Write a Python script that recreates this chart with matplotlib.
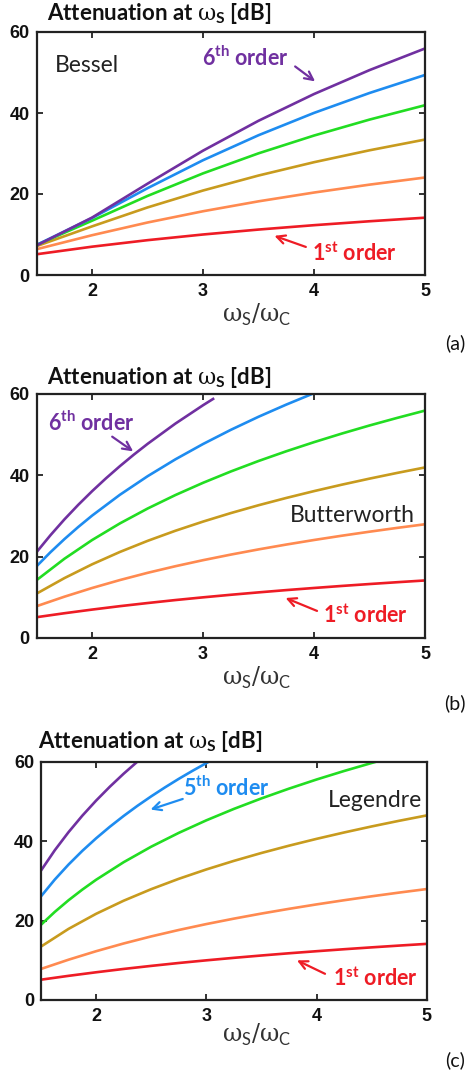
import matplotlib
matplotlib.use("Agg")
import matplotlib.pyplot as plt

plt.rcParams.update({
    "mathtext.fontset": "custom",
    "mathtext.rm": "DejaVu Serif",
    "mathtext.bf": "Lato:bold",
    "mathtext.sf": "Lato",
})

# normalised stopband frequency ws/wc
ratio_q = [1.5, 1.75, 2.0, 2.25, 2.5, 2.75, 3.0, 3.25, 3.5, 3.75, 4.0, 4.25, 4.5, 4.75, 5.0]
ratio_h = [1.5, 2.0, 2.5, 3.0, 3.5, 4.0, 4.5, 5.0]
ratio_e = [1.5, 1.625, 1.75, 1.875, 2.0, 2.125, 2.25, 2.375, 2.5, 2.625, 2.75, 2.875, 3.0]

# Bessel attenuation [dB], orders 1..6
bessel_db = [
    [5.12, 6.99, 8.60, 10.00, 11.22, 12.30, 13.27, 14.15],
    [6.36, 9.82, 12.96, 15.74, 18.19, 20.36, 22.31, 24.07],
    [7.12, 12.00, 16.68, 20.86, 24.56, 27.85, 30.79, 33.44],
    [7.42, 13.40, 19.52, 25.09, 30.04, 34.43, 38.37, 41.92],
    [7.41, 14.06, 21.43, 28.34, 34.51, 40.02, 44.94, 49.39],
    [7.29, 14.17, 22.54, 30.70, 38.08, 44.68, 50.59, 55.93],
]
bessel_x = [ratio_h] * 6

# Butterworth attenuation [dB], orders 1..6
butter_db = [
    [5.12, 6.09, 6.99, 7.83, 8.60, 9.33, 10.00, 10.63, 11.22, 11.78, 12.30, 12.80, 13.27, 13.72, 14.15],
    [7.83, 10.16, 12.30, 14.25, 16.03, 17.65, 19.14, 20.51, 21.79, 22.98, 24.10, 25.15, 26.14, 27.08, 27.97],
    [10.93, 14.73, 18.13, 21.16, 23.89, 26.37, 28.63, 30.72, 32.65, 34.44, 36.12, 37.70, 39.19, 40.60, 41.94],
    [14.25, 19.49, 24.10, 28.18, 31.84, 35.15, 38.17, 40.95, 43.53, 45.92, 48.16, 50.27, 52.26, 54.13, 55.92],
    [17.68, 21.12, 24.32, 27.31, 30.11, 35.22, 39.79, 43.93, 47.71, 51.19, 54.41, 57.40, 60.21],
    [21.16, 25.31, 29.17, 32.76, 36.12, 39.28, 42.26, 45.08, 47.75, 52.72, 57.25, 58.96],
]
butter_x = [ratio_q, ratio_q, ratio_q, ratio_q,
            [1.5, 1.625, 1.75, 1.875] + ratio_q[2:11],
            ratio_e[:9] + [2.75, 3.0, 3.1]]

# Legendre attenuation [dB], orders 1..6 (orders 1 and 2 coincide with Butterworth)
legendre_db = [
    butter_db[0],
    butter_db[1],
    [13.47, 17.93, 21.73, 25.03, 27.94, 30.55, 32.91, 35.07, 37.06, 38.90, 40.62, 42.23, 43.75, 45.18, 46.53],
    [18.97, 22.21, 25.15, 27.83, 30.31, 34.74, 38.65, 42.13, 45.29, 48.17, 50.82, 53.28, 55.58, 57.73, 59.75, 60.14],
    [26.13, 30.36, 34.15, 37.60, 40.76, 43.68, 46.40, 48.95, 51.34, 53.60, 55.75, 57.78, 59.72, 60.47],
    [32.63, 37.75, 42.32, 46.47, 50.27, 53.78, 57.05, 60.10],
]
legendre_x = [ratio_q, ratio_q, ratio_q,
              [1.5, 1.625, 1.75, 1.875] + ratio_q[2:13] + [4.55],
              ratio_e + [3.05],
              ratio_e[:8]]

order_colors = ["#EE1C25", "#FF8A50", "#C89B1E", "#22DD22", "#1E8CF0", "#7030A0"]

W, H = 467, 1075
fig = plt.figure(figsize=(W / 100, H / 100), dpi=100)


def px_axes(left, top, right, bottom):
    return fig.add_axes([left / W, 1 - bottom / H, (right - left) / W, (bottom - top) / H])


def style(ax):
    ax.set_xlim(1.5, 5)
    ax.set_ylim(0, 60)
    ax.set_xticks([2, 3, 4, 5])
    ax.set_yticks([0, 20, 40, 60])
    ax.tick_params(direction="in", top=True, right=True, length=4, width=1.3,
                   color="#222222", labelsize=13)
    ax.tick_params(axis="x", pad=6)
    ax.tick_params(axis="y", pad=5)
    for lab in ax.get_xticklabels() + ax.get_yticklabels():
        lab.set_fontweight("bold")
        lab.set_family("Liberation Sans")
        lab.set_color("#111111")
    for sp in ax.spines.values():
        sp.set_linewidth(1.6)
        sp.set_color("#222222")


def draw(ax, xs, ys):
    for x, y, c in zip(xs, ys, order_colors):
        ax.plot(x, y, color=c, lw=1.9, solid_capstyle="butt")


def order_label(ax, text, xy, start, end, color):
    ax.text(xy[0], xy[1], text, color=color, fontsize=15.5, fontweight="bold",
            family="Lato", ha="left", va="center")
    ax.annotate("", xy=end, xytext=start,
                arrowprops=dict(arrowstyle="->", color=color, lw=1.6, mutation_scale=15))


def header(x, y, xl_y, letter_y, letter):
    fig.text(x / W, 1 - y / H, r"Attenuation at $\mathrm{\omega}_{\mathbf{S}}$ [dB]",
             family="Lato", fontweight="bold", fontsize=16, ha="left", va="center",
             color="#111111")
    fig.text(257 / W, 1 - xl_y / H, r"$\mathrm{\omega}_{\mathsf{S}}/\mathrm{\omega}_{\mathsf{C}}$",
             fontsize=17, ha="center", va="center", color="#333333")
    fig.text(455 / W, 1 - letter_y / H, letter, family="Lato", fontsize=14,
             ha="center", va="center", color="#111111")


# (a) Bessel
ax_a = px_axes(36.5, 32, 425, 275)
draw(ax_a, bessel_x, bessel_db)
style(ax_a)
ax_a.text(1.67, 51.8, "Bessel", family="Lato", fontsize=16.5, color="#222222", va="center")
order_label(ax_a, r"6$^{\mathbf{th}}$ order", (2.99, 53.6), (3.81, 51.9), (4.03, 47.4), order_colors[5])
order_label(ax_a, r"1$^{\mathbf{st}}$ order", (3.98, 5.4), (3.95, 6.7), (3.62, 9.9), order_colors[0])
header(47, 13, 315, 343, "(a)")

# (b) Butterworth
ax_b = px_axes(36.7, 394, 425, 638)
draw(ax_b, butter_x, butter_db)
style(ax_b)
ax_b.text(3.78, 30.2, "Butterworth", family="Lato", fontsize=16.5, color="#222222", va="center")
order_label(ax_b, r"6$^{\mathbf{th}}$ order", (1.60, 52.9), (2.16, 49.9), (2.39, 45.5), order_colors[5])
order_label(ax_b, r"1$^{\mathbf{st}}$ order", (4.08, 5.7), (4.05, 6.4), (3.72, 10.1), order_colors[0])
header(47, 377, 678, 703, "(b)")

# (c) Legendre
ax_c = px_axes(41, 762, 426.7, 1000)
draw(ax_c, legendre_x, legendre_db)
style(ax_c)
ax_c.text(4.10, 50.4, "Legendre", family="Lato", fontsize=16.5, color="#222222", va="center")
order_label(ax_c, r"5$^{\mathbf{th}}$ order", (2.79, 53.4), (2.81, 50.9), (2.47, 47.8), order_colors[4])
order_label(ax_c, r"1$^{\mathbf{st}}$ order", (4.15, 5.5), (4.10, 6.3), (3.80, 10.3), order_colors[0])
header(38, 741, 1035, 1060, "(c)")

fig.savefig("out.png", dpi=100, facecolor="white")
